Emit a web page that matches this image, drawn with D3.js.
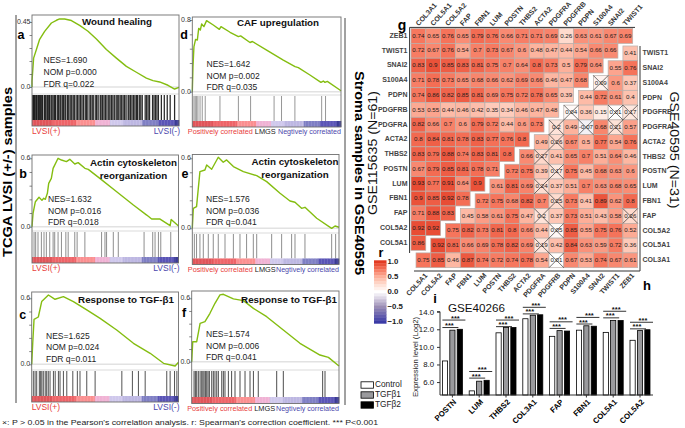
<!DOCTYPE html>
<html><head><meta charset="utf-8">
<script src="https://cdn.jsdelivr.net/npm/d3@7/dist/d3.min.js"></script>
<style>html,body{margin:0;background:#fff}svg{display:block}text{font-family:"Liberation Sans",Arial,sans-serif}</style>
</head><body><svg id="c" width="685" height="428" viewBox="0 0 685 428"></svg>
<script>
// ---------- GSEA data: [rank %, enrichment score] ----------
const curveA=[[0,0],[0,.04],[1.1,.2],[3,.26],[5.2,.33],[8.6,.385],[13.2,.443],[16.6,.462],[18.8,.471],[22.2,.471],[26.8,.46],[32.4,.427],[38.1,.386],[43.8,.333],[50.6,.259],[57.4,.2],[64.2,.143],[71,.102],[77.8,.062],[82.3,.044],[86.8,.035],[92.5,.012],[97,-.014],[100,-.002]];
const curveB=[[0,0],[.7,.117],[2.3,.219],[4.8,.258],[6.8,.231],[8,.25],[9.1,.24],[10.5,.293],[11.4,.38],[13.2,.424],[14.4,.512],[17.8,.6],[20.1,.585],[23.5,.571],[25.8,.591],[29.2,.55],[31.5,.562],[36.1,.512],[38.4,.503],[46.3,.424],[57.8,.307],[69.2,.19],[78.3,.102],[81.7,.067],[87.4,.067],[94.3,.009],[95,.064],[100,.006]];
const curveC=[[0,0],[.7,.191],[1.6,.409],[4.5,.43],[6.8,.57],[11.4,.63],[15.9,.591],[21.6,.615],[28.4,.57],[37.5,.494],[46.6,.418],[57.9,.312],[69.3,.191],[80.7,.1],[89.8,.009],[97.7,-.015],[100,.018]];
const curveD=[[0,0],[.45,.279],[1.1,.502],[2.2,.584],[3.4,.577],[4.3,.707],[5.4,.688],[6.3,.756],[7.8,.726],[9.6,.793],[14.1,.744],[18.2,.696],[19.3,.726],[25.4,.663],[31,.614],[32.5,.623],[38.8,.549],[40.4,.56],[50,.465],[61.2,.353],[69.1,.279],[71.3,.268],[79.1,.186],[86.5,.104],[88.1,.119],[89.2,.104],[90.8,.115],[100,.011]];
const curveE=[[0,0],[.7,.171],[2.9,.186],[4.1,.343],[5.2,.486],[8.6,.5],[9.8,.543],[13.2,.506],[17.7,.609],[21.1,.566],[23.4,.586],[28,.529],[34.8,.486],[43.9,.451],[50.7,.4],[59.8,.3],[66.6,.234],[70,.223],[74.5,.171],[76.8,.18],[84.8,.086],[95,0],[97.3,.02],[100,.009]];
const curveF=[[0,0],[.7,.189],[3.4,.189],[5.7,.363],[9,.379],[12.4,.458],[15.8,.553],[19.2,.632],[21.5,.638],[28.3,.594],[35.1,.578],[41.9,.505],[50.9,.426],[62.2,.3],[73.5,.174],[87.1,.063],[92.8,.041],[100,-.041]];
const hitsA=[.5,1,1.6,2.2,3,3.5,4.4,5,5.8,6.6,7.2,8.4,9,9.6,10.6,11.4,12,13,13.6,14.4,15.4,16,17.2,18,19,19.6,20.6,21.4,22.4,23,24.2,25,26,27,28,28.8,30,31,32,33,34,35,36.2,37,38,39.4,40,41,42,43.4,44,45,46.4,47,48,49,50,51,52.2,53,54,55,56,57.2,58,59,60,61,62,63,64,65.4,66,67,68,69,70,71,71.8,73,74,75,77,78,79,80,82,83,84,85,86,88,90,92,94,97];
const hitsB=[1.4,2.5,4.1,6.4,8.2,9.8,12.1,14.4,15.5,17.8,20.1,23.1,24.7,29.2,30.8,36.1,47.5,49.8,50.9,55.5,58.9,76.5,82.4,84,86.3,87.9,94.7];
const hitsC=[1.1,2.3,3.4,5.2,6.1,6.9,7.9,9.2,10.2,11.3,12.5,14.8,16,18.2,19.3,21.6,23.9,28,31.1,32.9,37.5,43.2,61.4,68.6,72.7,77.3,92,94.3,97.3,98.9];
const hitsD=[1.1,2,2.9,3.8,5.2,6.7,8.7,18.6,31,39.2,55,60,69,87,89.6];
const hitsE=[1.4,2.9,5.2,7.5,10.9,14.3,17.7,22.3,28,32.5,37,41.6,43.9,54.1,60.9,67.7,70,76.8,95,97.7];
const hitsF=[1.6,2.5,3.4,4.5,5.7,6.8,7.6,8.4,9.3,10.2,11.1,12,13.6,14.7,15.8,17,18.1,20.4,21.5,22.6,24.9,27.1,29.4,32.8,36.2,39.6,41.9,45.2,57.7,62.2,88.9,90.5];
const stripBreaks=[14,30,43,53,62,75,86,97];
const stripColors=["#e0555a","#ee6468","#fb8f90","#f0b2d4","#cfc8ec","#bdb7e2","#7f7fc4","#5a54b6","#3a3a94"];
const stats=[["NES=1.690","NOM p=0.000","FDR q=0.022"],["NES=1.632","NOM p=0.016","FDR q=0.018"],["NES=1.625","NOM p=0.024","FDR q=0.011"],["NES=1.642","NOM p=0.002","FDR q=0.035"],["NES=1.576","NOM p=0.036","FDR q=0.041"],["NES=1.574","NOM p=0.006","FDR q=0.041"]];
const titles=[["Wound healing"],["Actin cytoskeleton","reorganization"],["Response to TGF-β1"],["CAF upregulation"],["Actin cytoskeleton","reorganization"],["Response to TGF-β1"]];
const letters=["a","b","c","d","e","f"];
const topTicks=[.45,.6,.6,.8,.6,.6];
// ---------- Correlation data ----------
const rowNames=["ZEB1","TWIST1","SNAI2","S100A4","PDPN","PDGFRB","PDGFRA","ACTA2","THBS2","POSTN","LUM","FBN1","FAP","COL5A2","COL5A1","COL3A1"];
const topColNames=["COL3A1","COL5A1","COL5A2","FAP","FBN1","LUM","POSTN","THBS2","ACTA2","PDGFRA","PDGFRB","PDPN","S100A4","SNAI2","TWIST1"];
const bottomColNames=["COL5A1","COL5A2","FAP","FBN1","LUM","POSTN","THBS2","ACTA2","PDGFRA","PDGFRB","PDPN","S100A4","SNAI2","TWIST1","ZEB1"];
const corr=[
[.74,.65,.76,.65,.79,.76,.66,.71,.71,.69,.26,.63,.61,.67,.69],
[.72,.67,.76,.54,.7,.73,.67,.6,.48,.47,.44,.54,.66,.66,.41],
[.83,.9,.85,.83,.81,.75,.7,.64,.8,.73,.5,.79,.64,.55,.76],
[.71,.78,.73,.65,.68,.66,.62,.69,.66,.46,.47,.68,.09,.6,.37],
[.74,.86,.82,.85,.81,.69,.75,.72,.78,.65,.39,.44,.72,.61,.4],
[.53,.55,.44,.46,.42,.35,.34,.46,.47,.48,.04,.36,.15,.01,.17],
[.82,.66,.7,.6,.79,.72,.44,.6,.73,.2,.49,-.07,.68,.21,.57],
[.8,.84,.81,.78,.83,.77,.76,.8,.49,.26,.67,.5,.77,.54,.76],
[.83,.79,.88,.74,.83,.81,.8,.66,.27,.41,.65,.7,.51,.64,.46],
[.67,.79,.85,.81,.78,.71,.72,.75,.39,.17,.75,.45,.68,.63,.6],
[.93,.77,.91,.64,.9,.61,.81,.69,.24,.37,.51,.7,.63,.68,.65],
[.9,.85,.92,.78,.72,.75,.68,.82,.7,.25,.73,.41,.89,.62,.8],
[.71,.88,.83,.45,.58,.61,.75,.47,.2,.37,.73,.51,.43,.58,.26],
[.92,.92,.75,.82,.73,.81,.8,.66,.44,.05,.85,.55,.75,.76,.52],
[.86,.92,.81,.66,.69,.78,.82,.69,.19,.42,.84,.63,.59,.72,.36],
[.75,.85,.46,.87,.74,.72,.74,.78,.54,.01,.67,.53,.74,.67,.61]];
const crossed=[[3,12],[5,10],[5,13],[5,14],[6,9],[6,11],[6,13],[7,9],[8,8],[9,9],[10,8],[11,9],[12,8],[12,14],[13,9],[14,8],[15,9]];
const colorStops=[-1,-.5,-.2,0,.25,.5,.75,1];
const colorRange=["#3b3ba6","#9a8cb4","#dcd6e6","#ffffff","#fedccf","#fdb09a","#f6755c","#e23a22"];
const legendVals=[1,.9,.8,.7,.6,.5,.4,.3,.2,.1,0,-.1,-.2,-.3,-.4,-.5,-.6,-.7,-.8,-.9,-1];
const legendTicks=["1.0","0.5","0.0","−0.5","−1.0"];
const legendTickVals=[1,.5,0,-.5,-1];
// ---------- Expression data ----------
const genes=["POSTN","LUM","THBS2","COL3A1","FAP","FBN1","COL5A1","COL5A2"];
const controlVals=[8.4,5,11.6,13.2,11.2,11.9,11.65,10.75];
const tgf1Vals=[11.9,6.1,12.2,13.6,11.85,12.4,13,11.85];
const tgf2Vals=[12,6.2,12.2,13.65,11.8,12.35,13,11.95];
const sigUpper=[13.05,7.2,13.05,14.5,12.85,13.35,14.05,12.8];
const sigLower=[12.2,6.45,12.3,13.75,12.1,12.6,13.3,12.05];
const barTicks=[6,8,10,12,14];

const svg=d3.select("#c");
const T=(x,y,s,o={})=>{const t=svg.append("text").attr("x",x).attr("y",y).attr("dominant-baseline","middle").text(s)
 .attr("font-size",o.size||8).attr("fill",o.fill||"#111").attr("font-weight",o.bold?"bold":"normal").attr("text-anchor",o.anchor||"start");
 if(o.rot!==undefined)t.attr("transform",`rotate(${o.rot} ${x} ${y})`);if(o.len)t.attr("textLength",o.len).attr("lengthAdjust","spacingAndGlyphs");return t;};

// ---------- GSEA panels ----------
const layouts=[
 {x0:32,x1:179,top:15,zero:87,tickY:22,h0:95,h1:120,s1:126,lx:21,ly:36,tx:117,ty:22,nx:43.5,ny:[61,73,84.5],ops:.9,w:1.25,lab:"L"},
 {x0:32,x1:178.5,top:155,zero:226.7,tickY:158.3,h0:232,h1:257,s1:263,lx:23,ly:175,tx:133.5,ty:163.5,nx:48,ny:[200,211.7,223],ops:.6,lab:"L"},
 {x0:31.7,x1:178.5,top:292,zero:364.3,tickY:298.3,h0:371,h1:396,s1:402,lx:22.7,ly:315.7,tx:126,ty:300,nx:46,ny:[336.7,348,359.3],ops:.72,w:1,lab:"L"},
 {x0:192.3,x1:341,top:17,zero:91.7,tickY:20,h0:96,h1:121,s1:127,lx:184,ly:36,tx:278,ty:23.5,nx:206.5,ny:[65,76.7,88],ops:.55,lab:"G"},
 {x0:192.3,x1:339,top:154.5,zero:228.3,tickY:158.3,h0:234,h1:258.5,s1:264.5,lx:185,ly:175,tx:295,ty:162,nx:206,ny:[200,211.7,223],ops:.6,lab:"G"},
 {x0:191.7,x1:339,top:291,zero:361.7,tickY:298.3,h0:371,h1:397,s1:403.5,lx:184,ly:314,tx:289,ty:300,nx:206,ny:[335,346.3,357.7],ops:.75,w:1,lab:"G"}];
const curves=[curveA,curveB,curveC,curveD,curveE,curveF],hits=[hitsA,hitsB,hitsC,hitsD,hitsE,hitsF];
const stripScale=d3.scaleThreshold().domain(stripBreaks).range(stripColors);
layouts.forEach((p,i)=>{
 const x=d3.scaleLinear().domain([0,100]).range([p.x0,p.x1]);
 const y=d3.scaleLinear().domain([0,topTicks[i]]).range([p.zero,p.tickY]);
 const g=svg.append("g");
 g.append("line").attr("x1",p.x0).attr("x2",p.x1).attr("y1",p.zero).attr("y2",p.zero).attr("stroke","#e2e2e2").attr("stroke-width",1.6);
 g.append("line").attr("x1",p.x0).attr("x2",p.x1).attr("y1",p.h0-1).attr("y2",p.h0-1).attr("stroke","#ccc").attr("stroke-width",.7);
 g.selectAll(".h").data(hits[i]).join("line").attr("x1",d=>x(d)).attr("x2",d=>x(d)).attr("y1",p.h0).attr("y2",p.h1).attr("stroke","#111").attr("stroke-width",p.w||.8).attr("stroke-opacity",p.ops);
 g.selectAll(".s").data(d3.range(0,100)).join("rect").attr("x",d=>x(d)).attr("width",(p.x1-p.x0)/100+.3).attr("y",p.h1).attr("height",p.s1-p.h1).attr("fill",d=>stripScale(d));
 g.append("path").datum(curves[i]).attr("fill","none").attr("stroke","#84bd10").attr("stroke-width",1.4).attr("stroke-linejoin","round")
  .attr("d",d3.line().x(d=>x(d[0])).y(d=>y(d[1])));
 g.append("rect").attr("x",p.x0).attr("y",p.top).attr("width",p.x1-p.x0).attr("height",p.s1-p.top).attr("fill","none").attr("stroke","#6f6f6f").attr("stroke-width",.9);
 const ax=d3.axisLeft(y).tickValues(d3.range(0,6).map(k=>topTicks[i]*k/5)).tickSize(2.5).tickFormat("");
 const ag=g.append("g").attr("transform",`translate(${p.x0},0)`).call(ax);ag.select(".domain").remove();ag.selectAll("line").attr("stroke","#555").attr("stroke-width",.7);
 T(p.x0-1.5,p.tickY,topTicks[i]===.45?"0.45":topTicks[i].toFixed(1),{size:7,fill:"#333",anchor:"end"});
 T(p.x0-1.5,p.zero,"0.0",{size:7,fill:"#333",anchor:"end"});
 T(p.lx,p.ly,letters[i],{size:12.5,bold:true,anchor:"middle",fill:"#000"});
 titles[i].forEach((s,k)=>T(p.tx,p.ty+k*13.4,s,{size:9.8,bold:true,anchor:"middle"}));
 stats[i].forEach((s,k)=>T(p.nx,p.ny[k],s,{size:8.5,fill:"#222"}));
 const by=p.s1+5.5;
 if(p.lab==="L"){T(p.x0,by,"LVSI(+)",{size:8.5,fill:"#e8403c"});T(p.x1+1,by,"LVSI(-)",{size:8.5,fill:"#4a47ac",anchor:"end"});}
 else{T(p.x0-4.5,by,"Positively correlated",{size:7.2,fill:"#e8403c",len:65});T(p.x0+62.5,by,"LMGS",{size:7.2,fill:"#222",len:21});T(p.x1,by,"Negtively correlated",{size:7.2,fill:"#4a47ac",anchor:"end",len:63});}
});
// side rules and titles
[[16,15,403],[345,18,405]].forEach(d=>svg.append("line").attr("x1",d[0]).attr("x2",d[0]).attr("y1",d[1]).attr("y2",d[2]).attr("stroke","#444").attr("stroke-width",1));
T(8,172,"TCGA LVSI (+/-) samples",{size:13.5,bold:true,anchor:"middle",rot:-90,fill:"#000",len:170});
T(358,173,"Stroma samples in GSE40595",{size:13,bold:true,anchor:"middle",rot:90,fill:"#000",len:204});
T(374,153,"GSE115635 (N=61)",{size:12.5,anchor:"middle",rot:-90,fill:"#111",len:124});
T(673,150,"GSE40595 (N=31)",{size:12.5,anchor:"middle",rot:90,fill:"#111",len:117});

// ---------- Heat map ----------
const cell=14.78;
const hx=d3.scaleBand().domain(d3.range(15)).range([411,411+15*cell]);
const hy=d3.scaleBand().domain(d3.range(16)).range([28.6,28.6+16*cell]);
const heat=d3.scaleLinear().domain(colorStops).range(colorRange);
const isX=new Set(crossed.map(d=>d.join()));
const cells=corr.flatMap((r,i)=>r.map((v,j)=>({v,i,j,left:j<15-i})));
const cx=d=>hx(d.j)+(d.left?0:5),cy=d=>hy(d.i)+(d.left?0:2.6);
const hg=svg.append("g");
hg.selectAll("rect").data(cells).join("rect").attr("x",cx).attr("y",cy).attr("width",cell).attr("height",cell).attr("fill",d=>heat(d.v)).attr("stroke","#b8b0ac").attr("stroke-width",.7);
hg.selectAll("text").data(cells).join("text").attr("x",d=>cx(d)+cell/2).attr("y",d=>cy(d)+cell/2).attr("dominant-baseline","middle").attr("text-anchor","middle")
 .attr("font-size",6.2).attr("fill","#1c1c1c").text(d=>d.v<0?"-0.07":String(d.v).replace(/^0?\./,"0."));
cells.filter(d=>isX.has(d.i+","+d.j)).forEach(d=>{const a=cx(d),b=cy(d);
 [[a,b,a+cell,b+cell],[a+cell,b,a,b+cell]].forEach(l=>hg.append("line").attr("x1",l[0]).attr("y1",l[1]).attr("x2",l[2]).attr("y2",l[3]).attr("stroke","#333").attr("stroke-width",.7));});
const rule=(a,b,c,e)=>svg.append("line").attr("x1",a).attr("y1",b).attr("x2",c).attr("y2",e).attr("stroke","#333").attr("stroke-width",1);
rule(409.6,27.4,635,27.4);rule(409.6,27.4,409.6,253);rule(640,46,640,271);rule(414,271,640,271);
rowNames.forEach((n,i)=>{
 const y=hy(i)+cell/2;
 if(i<15){T(407.5,y,n,{size:7,bold:true,fill:"#444",anchor:"end"});}
 if(i>0){T(642.5,y+2.6,n,{size:7,bold:true,fill:"#444"});}
});
topColNames.forEach((n,j)=>T(hx(j)+cell/2-1,25,n,{size:7,bold:true,fill:"#333",rot:-48}));
bottomColNames.forEach((n,j)=>T(hx(j)+cell/2+8,274.5,n,{size:7,bold:true,fill:"#333",anchor:"end",rot:-48}));
T(402,26,"g",{size:14,bold:true,anchor:"middle",fill:"#000"});
T(647,287,"h",{size:13,bold:true,anchor:"middle",fill:"#000"});
T(435,300,"i",{size:13,bold:true,anchor:"middle",fill:"#000"});
// colour bar
const ly=d3.scaleLinear().domain([1,-1]).range([262,322]);
legendVals.forEach(v=>svg.append("rect").attr("x",374).attr("width",12.5).attr("y",ly(v)-1.7).attr("height",3.4).attr("fill",heat(v)));
legendTickVals.forEach((v,k)=>T(387.5,ly(v),legendTicks[k],{size:7.8,bold:true,fill:"#222"}));
T(381,254,"r",{size:12.5,bold:true,anchor:"middle",fill:"#000"});

// ---------- Bars ----------
const bx=d3.scaleBand().domain(genes).range([439,653.4]);
const by=d3.scaleLinear().domain([4.53,14]).range([395,311.7]);
const barW=5.2,off=[-7.4,0,7.4];
[[controlVals,"#fff"],[tgf1Vals,"#9a9a9d"],[tgf2Vals,"#000"]].forEach((s,k)=>{
 svg.append("g").selectAll("rect").data(genes).join("rect").attr("x",g=>bx(g)+bx.step()/2+off[k]-barW/2).attr("width",barW)
  .attr("y",(g,i)=>by(s[0][i])).attr("height",(g,i)=>395-by(s[0][i])).attr("fill",s[1]).attr("stroke","#000").attr("stroke-width",.8);
});
genes.forEach((g,i)=>{
 const c=bx(g)+bx.step()/2;
 rule(c-10,by(sigUpper[i]),c+13,by(sigUpper[i]));rule(c-10,by(sigLower[i]),c+6,by(sigLower[i]));
 T(c+3,by(sigUpper[i])-1.4,"***",{size:7.5,bold:true,anchor:"middle",fill:"#111"});
 T(c-3,by(sigLower[i])-1.4,"***",{size:7.5,bold:true,anchor:"middle",fill:"#111"});
 T(c+3,401,g,{size:7.8,bold:true,anchor:"end",rot:-45,fill:"#000"});
});
const yAxis=svg.append("g").attr("transform","translate(440,0)").call(d3.axisLeft(by).tickValues(barTicks).tickSize(3).tickFormat(d=>d.toFixed(1)));
yAxis.selectAll("text").attr("font-size",7.8).attr("fill","#111").attr("font-family","Liberation Sans");
yAxis.selectAll("line").attr("stroke","#333");yAxis.select(".domain").attr("stroke","#333").attr("d","M-3,311.7H0V395");
rule(440,395,653,395);
genes.forEach(g=>{const c=bx(g)+bx.step()/2;rule(c,395,c,397.5);});
T(415.5,357,"Expression level (Log2)",{size:7.6,anchor:"middle",rot:-90,fill:"#222",len:80});
T(448,309,"GSE40266",{size:11,fill:"#111",len:57});
// legend
[["Control","#fff"],["TGFβ1","#9a9a9d"],["TGFβ2","#000"]].forEach((d,k)=>{
 const y=385+k*10;
 svg.append("rect").attr("x",361).attr("y",y-3.2).attr("width",12.5).attr("height",6.4).attr("fill",d[1]).attr("stroke","#000").attr("stroke-width",.8);
 T(375,y,d[0],{size:8.3,fill:"#222"});
});
T(2,423,"×:  P > 0.05 in the Pearson's correlation analysis. r: Spearman's correction coefficient.  *** P<0.001",{size:7.2,fill:"#222",len:376});
</script></body></html>
